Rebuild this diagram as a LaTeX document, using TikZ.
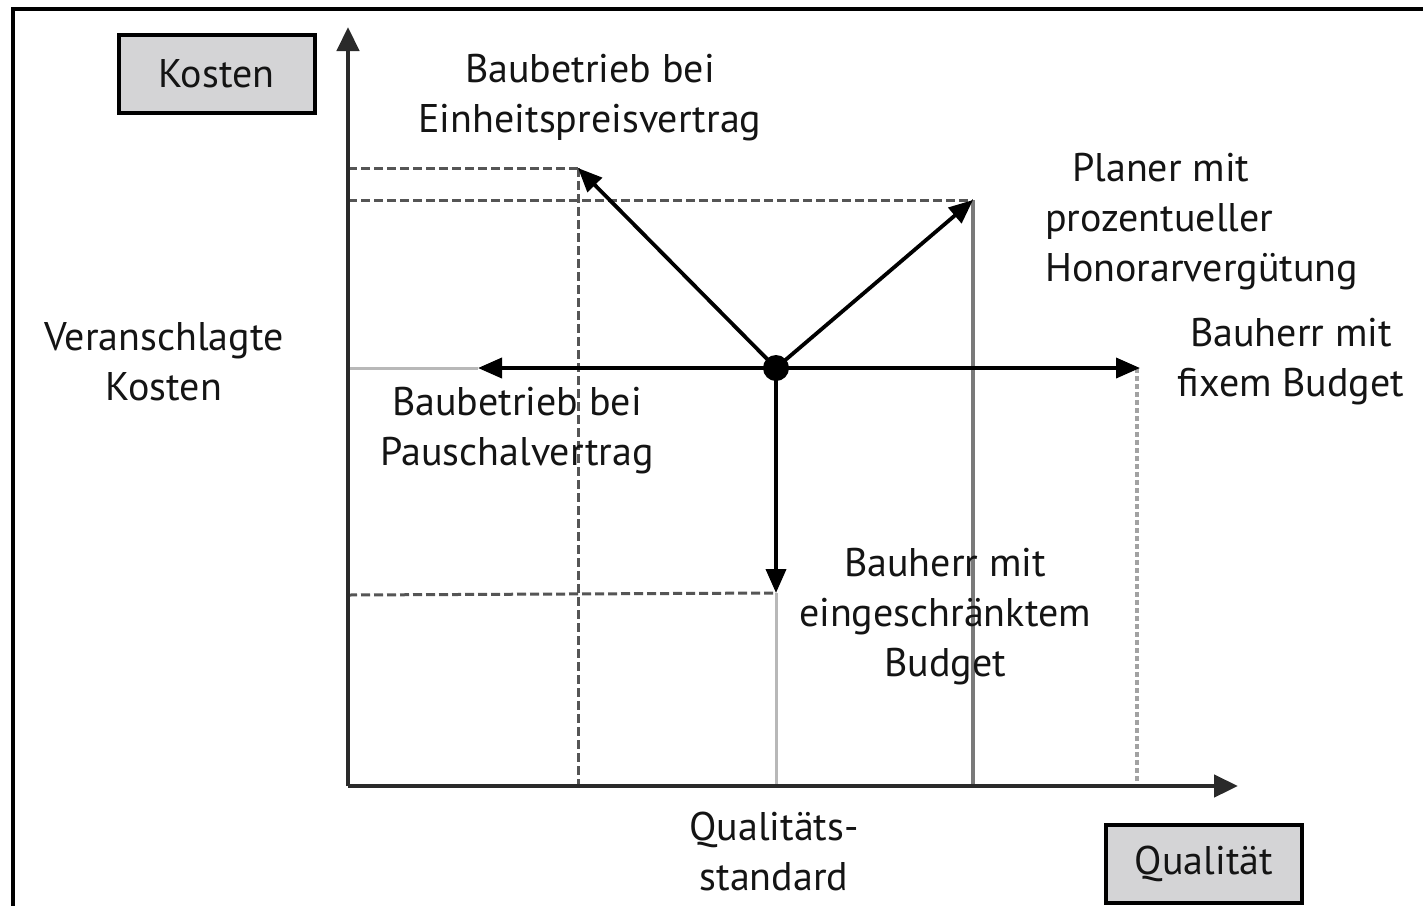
\documentclass[tikz,border=0pt]{standalone}
\usepackage{fontspec}
\setmainfont{PT Sans}
\usetikzlibrary{arrows.meta}
\definecolor{axisgrey}{HTML}{2A2A2A}
\definecolor{lightg}{HTML}{B8B8B8}
\definecolor{midg}{HTML}{7A7A7A}
\definecolor{dashg}{HTML}{555555}
\definecolor{boxfill}{HTML}{D4D4D6}
\definecolor{txt}{HTML}{141414}
\begin{document}
\begin{tikzpicture}[x=1pt,y=-1pt,
  lbl/.style={font=\fontsize{40}{50}\selectfont, text=txt, align=center, inner sep=0pt},
  labelbox/.style={lbl, draw=black, line width=4pt, fill=boxfill, minimum width=196pt, minimum height=78pt},
  arr/.style={line width=3.8pt, black, -{Triangle[length=24pt,width=20pt]}},
  axisline/.style={line width=4.5pt, axisgrey, -{Triangle[length=24pt,width=22pt]}},
  dashdark/.style={line width=3pt, dashg, dash pattern=on 9pt off 4pt},
  dotgrey/.style={line width=3.5pt, midg!70, dash pattern=on 5pt off 3pt},
  thinlight/.style={line width=3pt, lightg},
  thinmid/.style={line width=3.2pt, midg}
]
\useasboundingbox (0,0) rectangle (1423,906);
\fill[white] (0,0) rectangle (1423,906);
\draw[line width=4pt] (1423,9) -- (13,9) -- (13,906);

% coordinates
\coordinate (O) at (348,786);
\coordinate (Ytop) at (348,27);
\coordinate (Xend) at (1238,786);
\coordinate (C) at (776,368);
\coordinate (UL) at (578,168);
\coordinate (UR) at (973,200);
\coordinate (L) at (478,368);
\coordinate (R) at (1140,368);
\coordinate (D) at (776,593);

% guide lines
\draw[dashdark] (348,168) -- (UL);
\draw[dashdark] (UL) -- (578,786);
\draw[dashdark] (348,200) -- (UR);
\draw[thinmid] (UR) -- (973,786);
\draw[dotgrey] (1137,368) -- (1137,786);
\draw[dashdark] (348,595) -- (D);
\draw[thinlight] (348,368) -- (L);
\draw[thinlight] (D) -- (776,786);

% axes
\draw[axisline] (O) -- (Ytop);
\draw[axisline] (O) -- (Xend);

% arrows
\draw[arr] (C) -- (UL);
\draw[arr] (C) -- (UR);
\draw[arr] (C) -- (L);
\draw[arr] (C) -- (R);
\draw[arr] (C) -- (D);
\node[circle, fill=black, minimum size=26pt, inner sep=0pt] (dot) at (C) {};

% boxes
\node[labelbox] (kosten) at (216.5,74) {Kosten};
\node[labelbox] (qual) at (1204,864) {Qualität};

% labels
\node[lbl] (einheit) at (590,98) {Baubetrieb bei\\Einheitspreisvertrag};
\node[lbl, align=left, anchor=west] (planer) at (1045,222) {\hspace*{27pt}Planer mit\\prozentueller\\Honorarvergütung};
\node[lbl] (veran) at (164,362) {Veranschlagte\\Kosten};
\node[lbl] (fixem) at (1291,362) {Bauherr mit\\fixem Budget};
\node[lbl] (pausch) at (517,431) {Baubetrieb bei\\Pauschalvertrag};
\node[lbl] (einge) at (945,617) {Bauherr mit\\eingeschränktem\\Budget};
\node[lbl] (qstd) at (774,851) {Qualitäts-\\standard};
\end{tikzpicture}
\end{document}
